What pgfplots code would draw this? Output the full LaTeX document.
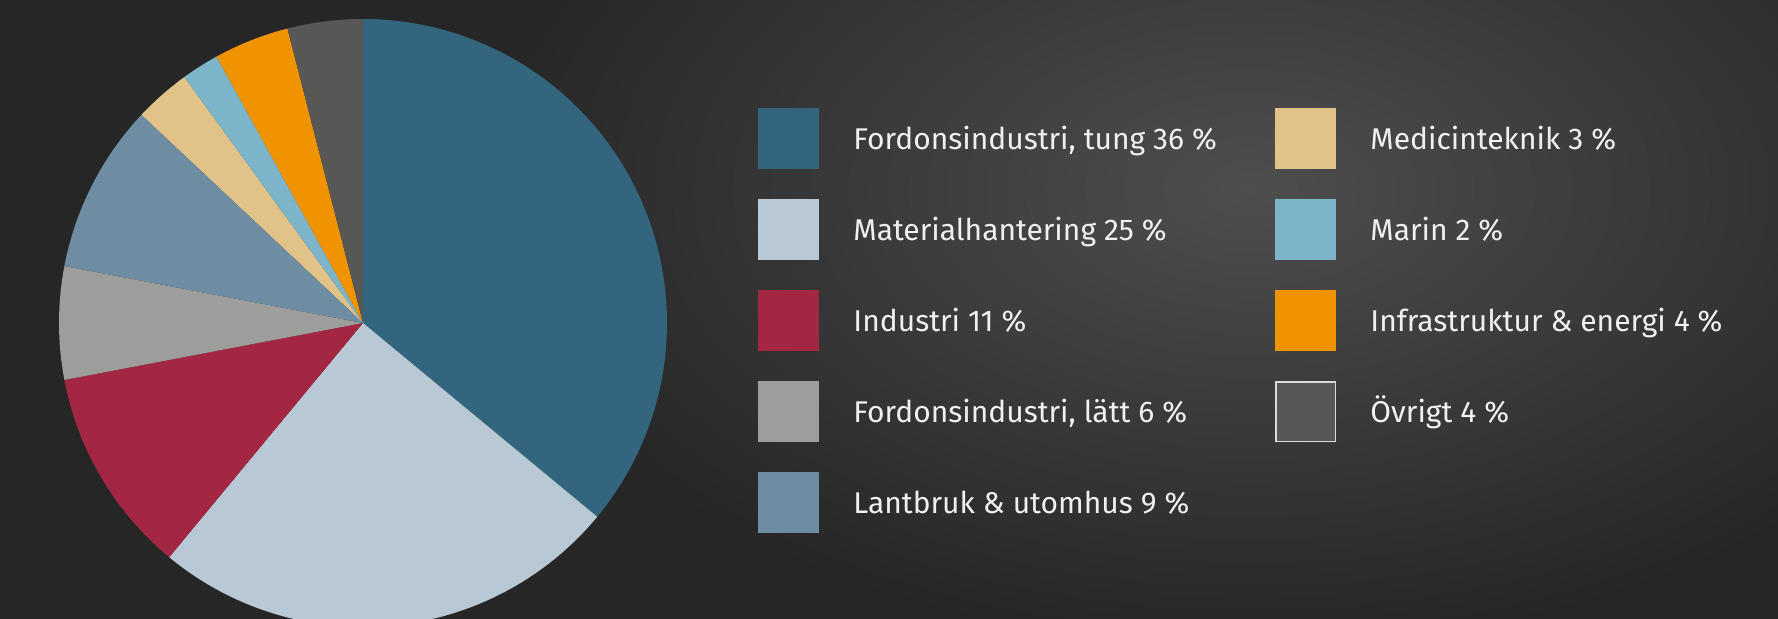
\documentclass[border=0pt]{standalone}
\usepackage{fontspec}
\setmainfont{Fira Sans}
\usepackage{pgfplots}
\pgfplotsset{compat=1.18}
\definecolor{BgDark}{HTML}{262626}
\definecolor{BgLight}{HTML}{4E4E4E}
\definecolor{cTung}{HTML}{33657F}
\definecolor{cMat}{HTML}{B8C8D5}
\definecolor{cInd}{HTML}{A32642}
\definecolor{cLatt}{HTML}{9D9D9C}
\definecolor{cLant}{HTML}{6E8DA2}
\definecolor{cMed}{HTML}{E1C288}
\definecolor{cMar}{HTML}{7CB5CA}
\definecolor{cInfra}{HTML}{F09300}
\definecolor{cOvr}{HTML}{575756}

\begin{document}
\begin{tikzpicture}
\useasboundingbox (0,0) rectangle (889pt,309.5pt);
\clip (0,0) rectangle (889pt,309.5pt);
\fill[BgDark] (0,0) rectangle (889pt,309.5pt);
\shade[inner color=BgLight, outer color=BgDark, xscale=1.7] (625pt/1.7,215pt) circle (230pt);

% slices: domain = 90-3.6*(cumulative end) : 90-3.6*(cumulative start), in percent
\begin{axis}[
  hide axis, scale only axis,
  width=304pt, height=304pt,
  xmin=-1, xmax=1, ymin=-1, ymax=1,
  clip=false,
  at={(181.5pt,148pt)}, anchor=origin,
  legend columns=2,
  legend image code/.code={\fill[#1,draw=none] (0pt,-15.25pt) rectangle (30.5pt,15.25pt);
    \path[draw=none,fill=none] (0pt,0pt) -- (47.5pt,0pt);},
  legend style={draw=none, fill=none, inner sep=0pt, column sep=0pt, row sep=15pt,
    at={(1.1497,0.8536)}, anchor=north west,
    font=\fontsize{15}{18}\selectfont, text=white!94!black,
    cells={anchor=west},
    nodes={inner sep=0pt, text height=10.5pt, text depth=0pt}},
]
\addplot[fill=cTung, draw=none, domain={90-3.6*36}:{90-3.6*0}, samples=120, variable=\t]
  ({cos(\t)},{sin(\t)}) -- (axis cs:0,0) -- cycle;
\addlegendentry{\makebox[211pt][l]{Fordonsindustri, tung 36 \%}}
\addplot[fill=cMed, draw=none, domain={90-3.6*90}:{90-3.6*87}, samples=12, variable=\t]
  ({cos(\t)},{sin(\t)}) -- (axis cs:0,0) -- cycle;
\addlegendentry{Medicinteknik 3 \%}
\addplot[fill=cMat, draw=none, domain={90-3.6*61}:{90-3.6*36}, samples=90, variable=\t]
  ({cos(\t)},{sin(\t)}) -- (axis cs:0,0) -- cycle;
\addlegendentry{\makebox[211pt][l]{Materialhantering 25 \%}}
\addplot[fill=cMar, draw=none, domain={90-3.6*92}:{90-3.6*90}, samples=10, variable=\t]
  ({cos(\t)},{sin(\t)}) -- (axis cs:0,0) -- cycle;
\addlegendentry{Marin 2 \%}
\addplot[fill=cInd, draw=none, domain={90-3.6*72}:{90-3.6*61}, samples=40, variable=\t]
  ({cos(\t)},{sin(\t)}) -- (axis cs:0,0) -- cycle;
\addlegendentry{\makebox[211pt][l]{Industri 11 \%}}
\addplot[fill=cInfra, draw=none, domain={90-3.6*96}:{90-3.6*92}, samples=16, variable=\t]
  ({cos(\t)},{sin(\t)}) -- (axis cs:0,0) -- cycle;
\addlegendentry{Infrastruktur \& energi 4 \%}
\addplot[fill=cLatt, draw=none, domain={90-3.6*78}:{90-3.6*72}, samples=24, variable=\t]
  ({cos(\t)},{sin(\t)}) -- (axis cs:0,0) -- cycle;
\addlegendentry{\makebox[211pt][l]{Fordonsindustri, lätt 6 \%}}
\addplot[fill=cOvr, draw=none, domain={90-3.6*100}:{90-3.6*96}, samples=16, variable=\t,
  legend image code/.code={\filldraw[fill=cOvr, draw=white!72!gray, line width=0.8pt]
    (0.4pt,-14.85pt) rectangle (30.1pt,14.85pt);
    \path[draw=none,fill=none] (0pt,0pt) -- (47.5pt,0pt);}]
  ({cos(\t)},{sin(\t)}) -- (axis cs:0,0) -- cycle;
\addlegendentry{Övrigt 4 \%}
\addplot[fill=cLant, draw=none, domain={90-3.6*87}:{90-3.6*78}, samples=36, variable=\t]
  ({cos(\t)},{sin(\t)}) -- (axis cs:0,0) -- cycle;
\addlegendentry{\makebox[211pt][l]{Lantbruk \& utomhus 9 \%}}
\end{axis}
\end{tikzpicture}
\end{document}
